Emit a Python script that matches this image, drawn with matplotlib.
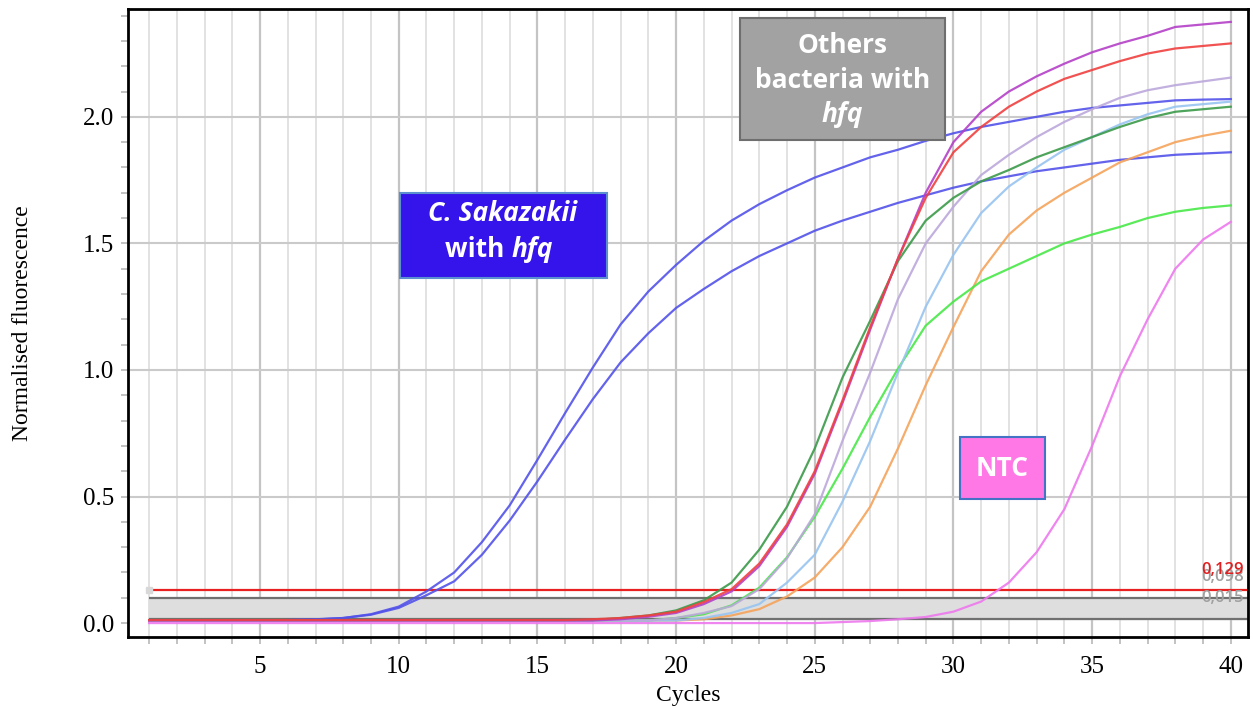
import matplotlib.pyplot as plt
import matplotlib.patches as pch

# qPCR amplification curves, normalised fluorescence per cycle
cycles = list(range(1, 41))

sakazakii_a = [0.01, 0.01, 0.01, 0.01, 0.01, 0.012, 0.015, 0.02, 0.035, 0.065,
               0.125, 0.20, 0.32, 0.465, 0.645, 0.83, 1.01, 1.18, 1.31, 1.415,
               1.51, 1.59, 1.655, 1.71, 1.76, 1.80, 1.84, 1.87, 1.905, 1.935,
               1.96, 1.98, 2.0, 2.02, 2.035, 2.045, 2.055, 2.065, 2.068, 2.07]
sakazakii_b = [0.01, 0.01, 0.01, 0.01, 0.01, 0.012, 0.014, 0.02, 0.033, 0.06,
               0.11, 0.165, 0.27, 0.405, 0.56, 0.725, 0.885, 1.03, 1.145, 1.245,
               1.32, 1.39, 1.45, 1.50, 1.55, 1.59, 1.625, 1.66, 1.69, 1.72,
               1.745, 1.765, 1.785, 1.80, 1.815, 1.83, 1.84, 1.85, 1.855, 1.86]

others_magenta = [0.01] * 17 + [0.015, 0.025, 0.04, 0.075, 0.125, 0.225, 0.38, 0.59, 0.87,
                                1.16, 1.44, 1.70, 1.90, 2.02, 2.10, 2.16, 2.21, 2.255, 2.29,
                                2.32, 2.355, 2.365, 2.375]
others_red = [0.012] * 16 + [0.015, 0.02, 0.03, 0.045, 0.083, 0.134, 0.235, 0.39, 0.60, 0.88,
                             1.17, 1.44, 1.68, 1.86, 1.96, 2.04, 2.10, 2.15, 2.185, 2.22,
                             2.25, 2.27, 2.28, 2.29]
others_lavender = [0.01] * 19 + [0.02, 0.04, 0.067, 0.134, 0.256, 0.43, 0.72, 0.99, 1.28, 1.50,
                                 1.645, 1.77, 1.85, 1.92, 1.98, 2.03, 2.075, 2.105, 2.125, 2.14,
                                 2.155]
others_lightblue = [0.01] * 20 + [0.02, 0.04, 0.075, 0.16, 0.27, 0.48, 0.72, 0.99, 1.25, 1.455,
                                  1.62, 1.725, 1.80, 1.87, 1.92, 1.97, 2.01, 2.04, 2.05, 2.06]
others_darkgreen = [0.012] * 17 + [0.02, 0.03, 0.05, 0.09, 0.16, 0.29, 0.46, 0.69, 0.97,
                                   1.195, 1.43, 1.59, 1.68, 1.745, 1.79, 1.84, 1.88, 1.92, 1.96,
                                   1.995, 2.02, 2.03, 2.04]
others_orange = [0.01] * 20 + [0.015, 0.03, 0.055, 0.105, 0.18, 0.30, 0.46, 0.69, 0.94, 1.17,
                               1.39, 1.535, 1.63, 1.70, 1.76, 1.82, 1.86, 1.90, 1.925, 1.945]
others_green = [0.01] * 19 + [0.02, 0.035, 0.07, 0.14, 0.26, 0.42, 0.61, 0.815, 1.005, 1.175,
                              1.27, 1.35, 1.40, 1.45, 1.50, 1.535, 1.565, 1.60, 1.625, 1.64,
                              1.65]
ntc = [0.0] * 25 + [0.004, 0.008, 0.015, 0.024, 0.045, 0.085, 0.16, 0.28, 0.45, 0.70,
                    0.975, 1.20, 1.40, 1.515, 1.585]

thresholds = [0.129, 0.098, 0.015]
threshold_labels = ['0,129', '0,098', '0,015']

series = [
    (sakazakii_a, '#5252ea'),
    (sakazakii_b, '#5252ea'),
    (ntc, '#ee78ee'),
    (others_orange, '#f5a35a'),
    (others_green, '#48e848'),
    (others_lightblue, '#98c4f0'),
    (others_lavender, '#bca8dc'),
    (others_darkgreen, '#3c9a4a'),
    (others_magenta, '#b440c8'),
    (others_red, '#f04040'),
]

xmin, xmax = 0.24, 40.62
ymin, ymax = -0.055, 2.426

fig = plt.figure(figsize=(12.53, 7.08), dpi=100)
ax = fig.add_axes([0.1022, 0.1003, 0.8938, 0.887])

# grid: light line every cycle, darker every 5
for c in cycles:
    if c % 5 == 0:
        ax.axvline(c, color='#c4c4c4', lw=1.6, zorder=0)
    else:
        ax.axvline(c, color='#e2e2e2', lw=1.4, zorder=0)
for v in [0.5, 1.0, 1.5, 2.0]:
    ax.axhline(v, color='#cacaca', lw=1.5, zorder=0)

# threshold band and lines
ax.fill_between([1, xmax], thresholds[2], thresholds[1], color='#dedede', zorder=1)
ax.hlines(thresholds[0], 1, xmax, color='#e82020', lw=1.6, zorder=2)
ax.hlines(thresholds[1:], 1, xmax, color='#707070', lw=1.6, zorder=2)
ax.plot([1], [thresholds[0]], marker='s', ms=5, color='#d8d8d8', zorder=2)

label_colors = ['#e02020', '#a0a0a0', '#a0a0a0']
for val, lbl, col in zip(thresholds, threshold_labels, label_colors):
    ax.annotate(lbl, xy=(xmax, val), xytext=(-3, 15), textcoords='offset points',
                ha='right', va='center', fontsize=12, fontweight='semibold', color=col,
                family='Open Sans', zorder=3 if col != '#e02020' else 3.5)

# curves
for vals, col in series:
    ax.plot(cycles, vals, color=col, lw=1.6, alpha=0.9, zorder=4)

# annotation boxes
box_font = 'Open Sans'
ax.add_patch(pch.Rectangle((10.05, 1.365), 7.45, 0.335, facecolor='#3414eb',
                           edgecolor='#5b8fd0', lw=1.5, zorder=5))
ax.text(13.75, 1.62, 'C. Sakazakii', ha='center', va='center', color='white',
        fontsize=19, fontweight='bold', style='italic', family=box_font, zorder=6)
ax.text(14.05, 1.475, 'with ', ha='right', va='center', color='white',
        fontsize=19, fontweight='bold', family=box_font, zorder=6)
ax.text(14.05, 1.475, 'hfq', ha='left', va='center', color='white',
        fontsize=19, fontweight='bold', style='italic', family=box_font, zorder=6)

ax.add_patch(pch.Rectangle((22.3, 1.91), 7.4, 0.48, facecolor='#a2a2a2',
                           edgecolor='#6e6e6e', lw=1.5, zorder=5))
ax.text(26.0, 2.28, 'Others', ha='center', va='center', color='white',
        fontsize=19, fontweight='bold', family=box_font, zorder=6)
ax.text(26.0, 2.145, 'bacteria with', ha='center', va='center', color='white',
        fontsize=19, fontweight='bold', family=box_font, zorder=6)
ax.text(26.0, 2.01, 'hfq', ha='center', va='center', color='white',
        fontsize=19, fontweight='bold', style='italic', family=box_font, zorder=6)

ax.add_patch(pch.Rectangle((30.23, 0.489), 3.07, 0.245, facecolor='#ff78e6',
                           edgecolor='#4472c4', lw=1.5, zorder=5))
ax.text(31.76, 0.611, 'NTC', ha='center', va='center', color='white',
        fontsize=19, fontweight='bold', family=box_font, zorder=6)

# axes
ax.set_xlim(xmin, xmax)
ax.set_ylim(ymin, ymax)
ax.set_xticks(range(5, 41, 5))
ax.set_xticks(cycles, minor=True)
ax.set_yticks([0.0, 0.5, 1.0, 1.5, 2.0])
ax.set_yticks([i / 10 for i in range(0, 25)], minor=True)
ax.set_yticklabels(['0.0', '0.5', '1.0', '1.5', '2.0'])
ax.tick_params(which='both', direction='out', color='#b8b8b8', length=5, width=1.2)
ax.tick_params(axis='x', which='major', pad=9)
ax.tick_params(axis='y', which='major', pad=5)
for lab in ax.get_xticklabels() + ax.get_yticklabels():
    lab.set_family('Liberation Serif')
    lab.set_fontsize(18)
for sp in ax.spines.values():
    sp.set_linewidth(2)
    sp.set_color('black')

ax.set_xlabel('Cycles', family='Liberation Serif', fontsize=17, labelpad=5)
ax.set_ylabel('Normalised fluorescence', family='Liberation Serif', fontsize=17, labelpad=36)

plt.savefig('out.png', dpi=100)
